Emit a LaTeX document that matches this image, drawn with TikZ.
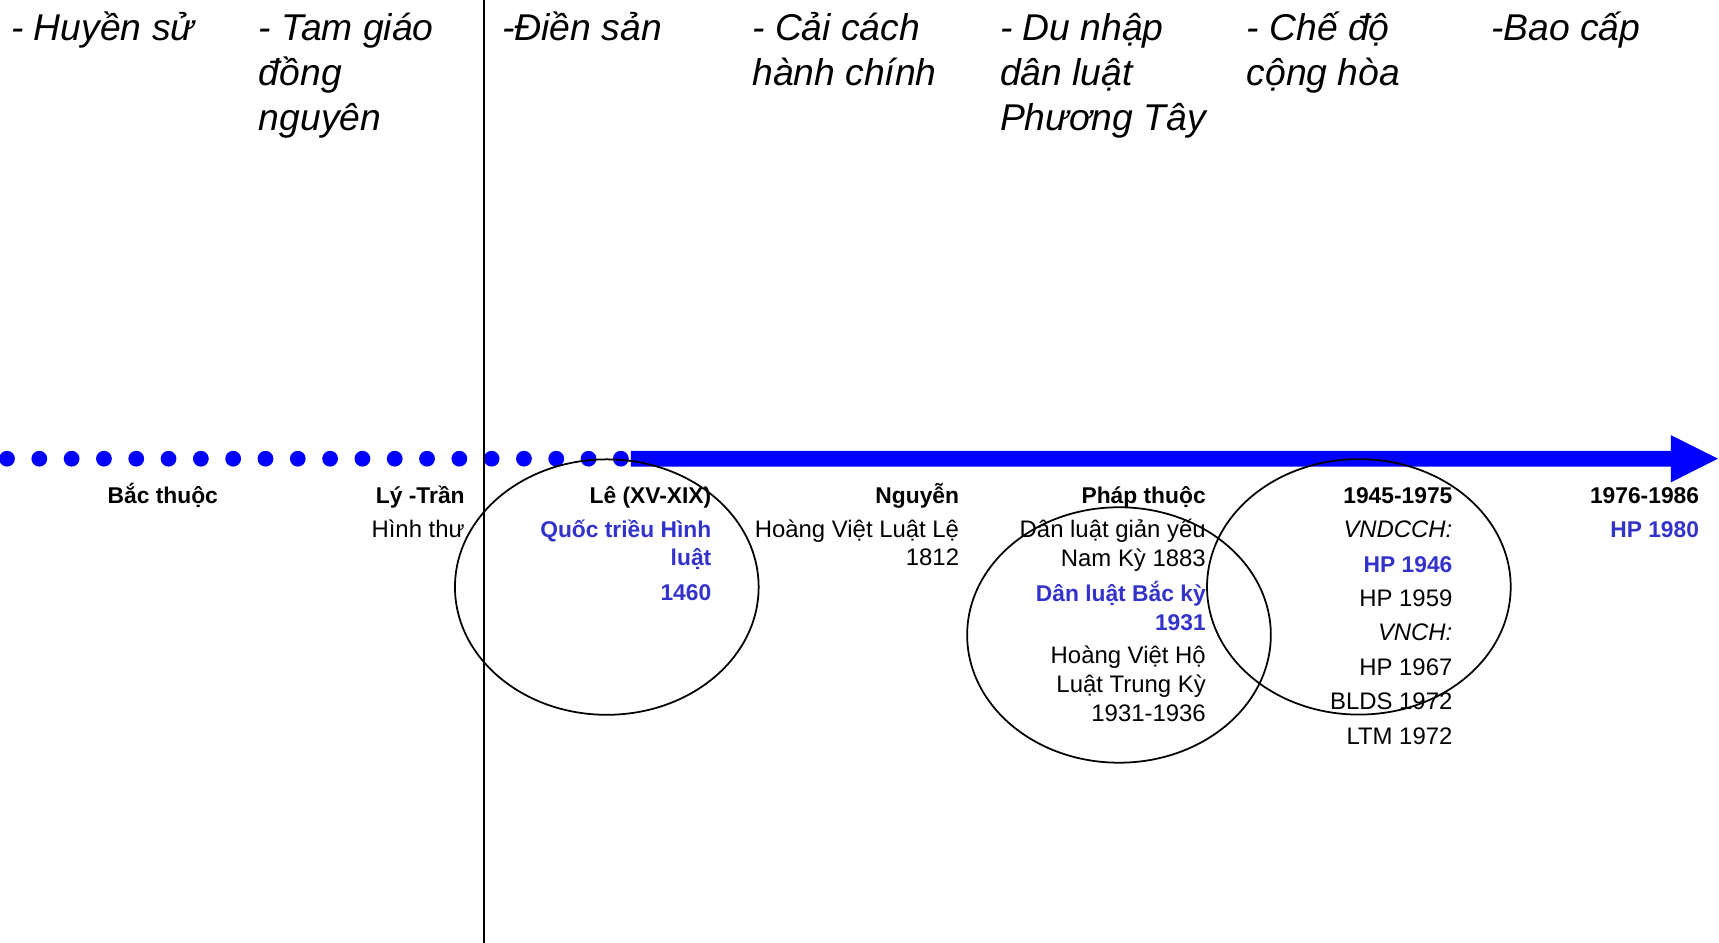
\documentclass[tikz,border=0pt]{standalone}
\usepackage{fontspec}
\setmainfont{Liberation Sans}
\usetikzlibrary{shapes.geometric}
\definecolor{lineblue}{RGB}{0,0,255}
\definecolor{hlblue}{RGB}{51,51,204}
\tikzset{
  toptext/.style={anchor=base west, inner sep=0pt, font=\fontsize{34}{40}\selectfont\itshape},
  era/.style={anchor=base east, inner sep=0pt, font=\fontsize{20.8}{26}\selectfont\bfseries},
  law/.style={anchor=base east, inner sep=0pt, font=\fontsize{21.8}{26}\selectfont},
  lawit/.style={anchor=base east, inner sep=0pt, font=\fontsize{21.8}{26}\selectfont\itshape},
  hl/.style={anchor=base east, inner sep=0pt, font=\fontsize{20.8}{26}\selectfont\bfseries, text=hlblue},
  ring/.style={draw=black, line width=1.6pt, ellipse, inner sep=0pt, minimum width=277pt, minimum height=233pt},
  tdot/.style={circle, fill=lineblue, inner sep=0pt, minimum size=14.4pt}
}
\begin{document}
\begin{tikzpicture}[x=1pt,y=1pt]
\useasboundingbox (0,0) rectangle (1568,-860);
% timeline dots
\foreach \i in {0,...,19} {
  \node[tdot] (d\i) at ({6.4+29.47*\i},-418.4) {};
}
% timeline arrow
\coordinate (as) at (575.5,-418.4);
\coordinate (ab) at (1524,-418.4);
\coordinate (ae) at (1567,-418.4);
\fill[lineblue] (575.5,-411.25) -- (1524,-411.25) -- (1524,-396.8) -- (ae) -- (1524,-440) -- (1524,-425.55) -- (575.5,-425.55) -- cycle;
% vertical divider
\coordinate (vt) at (441.5,0);
\coordinate (vb) at (441.5,-860);
\draw[line width=2pt] (vt) -- (vb);
% top texts
\node[toptext] (t1a) at (10,-37) {- Huyền sử};
\node[toptext] (t2a) at (236,-37) {- Tam giáo};
\node[toptext] (t2b) at (236,-78) {đồng};
\node[toptext] (t2c) at (236,-119) {nguyên};
\node[toptext] (t3a) at (458,-37) {-Điền sản};
\node[toptext] (t4a) at (686,-37) {- Cải cách};
\node[toptext] (t4b) at (686,-78) {hành chính};
\node[toptext] (t5a) at (912,-37) {- Du nhập};
\node[toptext] (t5b) at (912,-78) {dân luật};
\node[toptext] (t5c) at (912,-119) {Phương Tây};
\node[toptext] (t6a) at (1137,-37) {- Chế độ};
\node[toptext] (t6b) at (1137,-78) {cộng hòa};
\node[toptext] (t7a) at (1360,-37) {-Bao cấp};
% eras
\node[era] (e1) at (199,-459) {Bắc thuộc};
\node[era] (e2) at (424,-459) {Lý -Trần};
\node[era] (e3) at (649,-459) {Lê (XV-XIX)};
\node[era] (e4) at (875,-459) {Nguyễn};
\node[era] (e5) at (1100,-459) {Pháp thuộc};
\node[era] (e6) at (1325,-459) {1945-1975};
\node[era] (e7) at (1550,-459) {1976-1986};
% laws
\node[law] (l2a) at (424,-490) {Hình thư};
\node[hl] (l3a) at (649,-490) {Quốc triều Hình};
\node[hl] (l3b) at (649,-516) {luật};
\node[hl] (l3c) at (649,-547.5) {1460};
\node[law] (l4a) at (875,-490) {Hoàng Việt Luật Lệ};
\node[law] (l4b) at (875,-516) {1812};
\node[law] (l5a) at (1100,-490) {Dân luật giản yếu};
\node[law] (l5b) at (1100,-517) {Nam Kỳ 1883};
\node[hl] (l5c) at (1100,-549) {Dân luật Bắc kỳ};
\node[hl] (l5d) at (1100,-575) {1931};
\node[law] (l5e) at (1100,-605) {Hoàng Việt Hộ};
\node[law] (l5f) at (1100,-632) {Luật Trung Kỳ};
\node[law] (l5g) at (1100,-658) {1931-1936};
\node[lawit] (l6a) at (1325,-490) {VNDCCH:};
\node[hl] (l6b) at (1325,-522) {HP 1946};
\node[law] (l6c) at (1325,-553.5) {HP 1959};
\node[lawit] (l6d) at (1325,-584.5) {VNCH:};
\node[law] (l6e) at (1325,-616) {HP 1967};
\node[law] (l6f) at (1325,-647.5) {BLDS 1972};
\node[law] (l6g) at (1325,-679) {LTM 1972};
\node[hl] (l7a) at (1550,-490) {HP 1980};
% rings
\node[ring] (r1) at (553.5,-535.5) {};
\node[ring] (r2) at (1020.7,-579.2) {};
\node[ring] (r3) at (1239.5,-535.3) {};
\end{tikzpicture}
\end{document}
